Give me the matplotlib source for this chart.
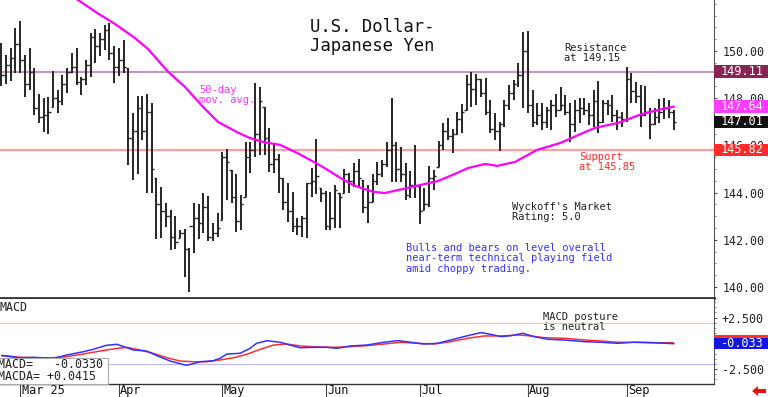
import numpy as np
import matplotlib
matplotlib.use("Agg")
import matplotlib.pyplot as plt
from matplotlib.patches import Rectangle, Polygon

plt.rcParams['font.family'] = ['DejaVu Sans Mono', 'DejaVu Sans']

# daily bars (USD/JPY)
highs = [150.34, 149.83, 150.13, 150.97, 151.27, 149.83, 150.13, 149.28, 148.18, 148.00,
         148.05, 149.15, 148.35, 148.98, 149.28, 149.92, 150.13, 148.90, 149.62, 150.76,
         150.93, 150.76, 151.10, 151.19, 150.21, 150.13, 150.47, 149.28, 147.37, 148.09,
         148.09, 148.18, 147.80, 144.62, 144.24, 143.56, 143.26, 143.01, 142.42, 142.46,
         141.65, 143.56, 143.52, 143.98, 143.86, 142.71, 143.14, 145.72, 145.85, 144.96,
         144.79, 143.90, 146.14, 146.14, 148.64, 148.47, 147.63, 146.74, 146.10, 145.64,
         144.62, 144.41, 144.03, 142.92, 143.01, 144.41, 145.04, 146.27, 144.19, 144.07,
         144.03, 144.32, 143.98, 145.00, 144.83, 145.25, 145.42, 144.53, 144.32, 144.79,
         145.30, 145.38, 146.14, 148.00, 146.14, 145.93, 145.25, 144.92, 146.02, 144.28,
         144.19, 145.13, 144.96, 146.19, 146.95, 147.16, 146.69, 147.42, 147.75, 148.98,
         149.11, 149.03, 148.81, 148.86, 147.92, 147.37, 146.99, 147.92, 148.56, 148.77,
         149.49, 150.81, 150.85, 148.35, 147.80, 147.80, 147.63, 147.92, 148.18, 148.47,
         148.14, 147.80, 147.92, 148.00, 148.00, 147.80, 148.35, 148.73, 147.92, 147.92,
         148.14, 147.50, 147.42, 149.32, 149.07, 148.69, 148.56, 148.52, 147.58, 147.58,
         147.97, 148.00, 147.92, 147.50]
lows = [148.52, 148.60, 148.73, 149.07, 149.07, 148.05, 148.35, 147.29, 146.95, 146.57,
        146.48, 147.63, 147.37, 147.71, 148.22, 149.07, 148.56, 148.14, 148.56, 148.90,
        149.49, 149.79, 150.04, 149.62, 148.64, 148.94, 149.07, 145.17, 144.53, 144.79,
        146.23, 143.98, 143.98, 142.03, 142.08, 142.54, 141.57, 141.61, 142.08, 140.42,
        139.79, 141.44, 142.03, 142.29, 141.95, 141.95, 142.12, 142.84, 143.69, 143.56,
        142.33, 142.42, 143.81, 144.83, 145.51, 145.59, 145.59, 144.87, 144.83, 143.98,
        143.26, 142.75, 142.33, 142.20, 142.12, 142.08, 143.81, 143.94, 143.60, 142.42,
        142.42, 142.50, 142.50, 143.98, 143.98, 144.24, 144.24, 143.14, 142.71, 143.60,
        144.32, 144.66, 145.08, 144.45, 144.45, 144.45, 143.69, 143.77, 143.77, 142.67,
        143.26, 143.39, 144.11, 145.08, 145.81, 146.23, 145.68, 146.44, 146.53, 147.50,
        147.63, 147.71, 148.05, 147.29, 146.53, 146.23, 145.76, 146.78, 147.50, 147.92,
        148.47, 147.58, 147.37, 146.78, 146.86, 146.65, 146.74, 146.65, 147.20, 147.50,
        147.29, 146.14, 146.57, 146.95, 147.29, 146.86, 146.78, 146.53, 146.95, 147.29,
        146.99, 146.65, 146.78, 146.99, 147.80, 147.80, 146.78, 147.25, 146.27, 146.86,
        146.95, 147.12, 147.16, 146.65]
closes = [149.0, 149.4, 149.7, 150.3, 149.6, 148.6, 149.1, 147.6, 147.2, 147.3,
          147.4, 148.0, 147.9, 148.6, 149.1, 149.3, 148.7, 148.8, 149.4, 150.6,
          150.2, 150.5, 150.9, 149.9, 149.3, 149.6, 149.3, 146.3, 146.6, 147.6,
          146.6, 147.4, 145.0, 143.5, 143.2, 143.0, 142.1, 141.9, 142.3, 141.6,
          142.6, 142.9, 142.7, 143.4, 142.1, 142.3, 142.5, 145.5, 145.3, 143.8,
          142.8, 143.5, 145.5, 145.8, 146.5, 147.9, 146.3, 145.2, 145.4, 144.6,
          143.6, 143.2, 142.6, 142.6, 142.9, 144.4, 144.5, 144.7, 144.0, 142.6,
          142.9, 144.1, 143.8, 144.8, 144.5, 144.9, 144.6, 143.4, 143.6, 144.5,
          144.8, 145.2, 145.8, 146.0, 145.0, 144.8, 143.9, 144.3, 144.3, 143.2,
          143.5, 144.6, 144.7, 146.0, 146.6, 146.4, 146.5, 147.1, 147.4, 148.6,
          148.4, 148.8, 148.2, 147.4, 146.7, 146.6, 146.9, 147.7, 148.2, 148.6,
          149.0, 150.0, 147.7, 147.0, 147.3, 147.0, 147.5, 147.7, 147.5, 147.7,
          147.4, 146.9, 147.5, 147.6, 147.5, 147.3, 147.9, 147.0, 147.8, 147.7,
          147.3, 147.2, 147.1, 148.8, 148.3, 148.1, 147.3, 147.4, 146.9, 147.2,
          147.4, 147.6, 147.4, 147.01]

# 50-day moving average, points along the magenta line
ma_idx = [14.6, 16.3, 20.4, 24.2, 28.4, 31.2, 35.5, 39.1, 42.7, 46.1, 50.4, 52.9, 55.7,
          59.3, 62.9, 65.7, 68.4, 72.1, 75.2, 79.1, 81.6, 87.4, 92.9, 96.5, 99.3, 102.9,
          105.5, 109.3, 114.0, 118.9, 123.8, 126.3, 131.2, 136.3, 139.7, 143.0]
ma_val = [152.42, 152.16, 151.61, 151.14, 150.55, 150.08, 149.11, 148.47, 147.67, 146.99,
          146.53, 146.31, 146.14, 146.02, 145.68, 145.38, 145.08, 144.62, 144.28, 144.03,
          143.98, 144.24, 144.49, 144.79, 145.04, 145.21, 145.13, 145.30, 145.81, 146.10,
          146.53, 146.74, 146.95, 147.33, 147.50, 147.64]

# MACD (blue) and its average (red)
macd_idx = [0.1, 4.0, 6.8, 11.1, 13.9, 17.4, 19.6, 22.4, 24.6, 26.1, 28.1, 30.9, 33.1,
            35.9, 39.4, 42.3, 45.1, 46.5, 48.0, 50.8, 52.9, 54.3, 56.5, 59.3, 61.4, 63.6,
            66.4, 69.2, 71.4, 74.2, 77.7, 81.4, 84.3, 87.1, 89.9, 92.8, 95.6, 98.4, 102.0,
            104.1, 106.3, 108.4, 110.9, 113.3, 116.2, 119.7, 124.0, 127.5, 131.1, 134.6,
            138.2, 143.0]
macd_val = [-1.20, -1.40, -1.36, -1.46, -1.14, -0.82, -0.58, -0.19, -0.10, -0.33, -0.65,
            -0.75, -1.20, -1.72, -2.14, -1.79, -1.69, -1.46, -1.04, -0.97, -0.49, 0.0,
            0.25, 0.10, -0.17, -0.43, -0.39, -0.39, -0.49, -0.26, -0.17, 0.10, 0.26, 0.10,
            -0.07, 0.0, 0.32, 0.65, 1.04, 0.87, 0.65, 0.74, 0.97, 0.65, 0.39, 0.32, 0.16,
            0.10, 0.0, 0.10, 0.06, -0.033]
sig_idx = [0.1, 4.0, 6.8, 11.1, 13.9, 17.4, 21.0, 24.6, 26.7, 29.5, 32.3, 35.2, 38.0,
           40.9, 43.7, 46.5, 49.4, 52.2, 55.1, 57.9, 60.7, 63.6, 66.4, 70.6, 74.2, 77.7,
           81.4, 84.9, 88.5, 92.0, 95.6, 99.2, 102.7, 106.3, 109.8, 112.0, 115.5, 119.7,
           124.0, 127.5, 131.1, 135.3, 138.9, 143.0]
sig_val = [-1.17, -1.36, -1.40, -1.40, -1.30, -1.04, -0.75, -0.49, -0.39, -0.65, -0.97,
           -1.40, -1.72, -1.79, -1.79, -1.62, -1.40, -1.07, -0.58, -0.17, -0.07, -0.26,
           -0.33, -0.39, -0.33, -0.23, -0.07, 0.10, 0.0, -0.07, 0.16, 0.49, 0.71, 0.71,
           0.81, 0.74, 0.55, 0.49, 0.32, 0.23, 0.10, 0.10, 0.06, 0.0415]

month_pos = [4, 25, 47, 69, 89, 112, 133]
month_lab = ['Mar 25', 'Apr', 'May', 'Jun', 'Jul', 'Aug', 'Sep']

resistance = 149.11
support = 145.82
last_close = 147.01
last_ma = 147.64
macd_last = -0.033
macda_last = 0.0415

W, H = 768, 397
fig = plt.figure(figsize=(W / 100, H / 100), dpi=100)

def fx(px):
    return px / W

def fy(py):
    return 1 - py / H

main_ylim = (139.53, 152.16)
macd_ylim = (-3.95, 4.30)
xlim = (-0.28, 151.6)
ax1_box = [0, fy(298), fx(714), fy(0) - fy(298)]
ax2_box = [0, fy(384), fx(714), fy(299) - fy(384)]

ax1 = fig.add_axes(ax1_box)
ax2 = fig.add_axes(ax2_box)

x = np.arange(len(highs))
opens = [closes[0]] + [min(max(c, lo), hi) for c, lo, hi in zip(closes[:-1], lows[1:], highs[1:])]

bar_col = '#262626'
ax1.vlines(x, lows, highs, color=bar_col, lw=1.4)
ax1.hlines(opens, x - 0.5, x, color=bar_col, lw=1.0)
ax1.hlines(closes, x, x + 0.5, color=bar_col, lw=1.0)
ax1.plot(ma_idx, ma_val, color='#ff00ff', lw=1.6)
ax1.axhline(resistance, color='#c79ab4', lw=1.6, zorder=0)
ax1.axhline(support, color='#ff9f9f', lw=1.6, zorder=0)

ax1.set_xlim(*xlim)
ax1.set_ylim(*main_ylim)
ax1.set_xticks([])
ax1.yaxis.tick_right()
ax1.set_yticks([140, 142, 144, 146, 148, 150])
ax1.set_yticklabels(['%.2f' % v for v in [140, 142, 144, 146, 148, 150]])
ax1.set_yticks(np.arange(140, 152.1, 0.5), minor=True)
ax1.tick_params(axis='y', which='major', direction='out', length=2.5, width=0.8,
                pad=4, labelsize=8.4, labelcolor='#222222', color='#555555')
ax1.tick_params(axis='y', which='minor', direction='out', length=1.5, width=0.6, color='#777777')
for s in ['top', 'left']:
    ax1.spines[s].set_visible(False)
ax1.spines['right'].set_color('#555555')
ax1.spines['right'].set_linewidth(0.8)
ax1.spines['bottom'].set_color('#333333')
ax1.spines['bottom'].set_linewidth(2.0)

ax2.plot(sig_idx, sig_val, color='#ff3030', lw=1.1)
ax2.plot(macd_idx, macd_val, color='#3333ff', lw=1.1)
ax2.axhline(2.0, color='#ffb8b8', lw=0.8, zorder=0)
ax2.axhline(-2.0, color='#b8b8ff', lw=0.8, zorder=0)
ax2.set_xlim(*xlim)
ax2.set_ylim(*macd_ylim)
ax2.yaxis.tick_right()
ax2.set_yticks([-2.5, 0, 2.5])
ax2.set_yticklabels(['-2.500', '', '+2.500'])
ax2.set_yticks(np.arange(-3.5, 4.1, 0.5), minor=True)
ax2.tick_params(axis='y', which='major', direction='out', length=2.5, width=0.8,
                pad=3, labelsize=8.4, labelcolor='#222222', color='#555555')
ax2.tick_params(axis='y', which='minor', direction='out', length=1.5, width=0.6, color='#777777')
ax2.set_xticks(month_pos)
ax2.set_xticklabels([''] * len(month_pos))
ax2.tick_params(axis='x', direction='out', length=9.4, width=0.8, color='#444444')
for s in ['top', 'left']:
    ax2.spines[s].set_visible(False)
ax2.spines['right'].set_color('#555555')
ax2.spines['right'].set_linewidth(0.8)
ax2.spines['bottom'].set_color('#333333')
ax2.spines['bottom'].set_linewidth(1.0)
for p, lab in zip(month_pos, month_lab):
    ax2.text(p + 0.3, -0.075, lab, transform=ax2.get_xaxis_transform(),
             ha='left', va='center', fontsize=8.6, color='#111111')

# value boxes on the right edge
def price_fy(v):
    return ax1_box[1] + (v - main_ylim[0]) / (main_ylim[1] - main_ylim[0]) * ax1_box[3]

def macd_fy(v):
    return ax2_box[1] + (v - macd_ylim[0]) / (macd_ylim[1] - macd_ylim[0]) * ax2_box[3]

def value_box(yc, hpx, text, fc):
    h = hpx / H
    fig.add_artist(Rectangle((fx(714), yc - h / 2), fx(54), h, transform=fig.transFigure,
                             fc=fc, ec='none', zorder=4))
    if text:
        fig.text(fx(721), yc, text, color='white', fontsize=8.6, ha='left',
                 va='center', zorder=5)

value_box(price_fy(resistance), 13, '%.2f' % resistance, '#8a2352')
value_box(price_fy(last_ma), 13, '%.2f' % last_ma, '#ff3cff')
value_box(price_fy(last_close), 12, '%.2f' % last_close, '#111111')
value_box(price_fy(support), 12, '%.2f' % support, '#ff2a2a')
value_box(macd_fy(macda_last) + 0.004, 12, '', '#ff3030')
value_box(macd_fy(macd_last), 11, '%.3f' % macd_last, '#1515e0')

# texts
fig.text(fx(310), fy(18), 'U.S. Dollar-\nJapanese Yen', fontsize=12.4, ha='left',
         va='top', color='#111111', linespacing=1.05)
small = dict(fontsize=7.5, ha='left', va='top', linespacing=1.05)
fig.text(fx(199), fy(85), '50-day\nmov. avg.', color='#ff33ff', **small)
fig.text(fx(564), fy(43), 'Resistance\nat 149.15', color='#222222', **small)
fig.text(fx(579), fy(152), 'Support\nat 145.85', color='#ff2a2a', **small)
fig.text(fx(512), fy(202), "Wyckoff's Market\nRating: 5.0", color='#222222', **small)
fig.text(fx(406), fy(243), 'Bulls and bears on level overall\n'
         'near-term technical playing field\namid choppy trading.',
         color='#3333ff', **small)
fig.text(fx(543), fy(312), 'MACD posture\nis neutral', color='#222222', **small)
fig.text(fx(0), fy(301), 'MACD', color='#222222', fontsize=8.4, ha='left', va='top')

fig.add_artist(Rectangle((fx(-1), fy(384)), fx(109), fy(358) - fy(384), transform=fig.transFigure,
                         fc='white', ec='#aaaaaa', lw=0.8, zorder=4))
fig.text(fx(-2), fy(365), 'MACD=   -0.0330', color='#222222', fontsize=8.4, ha='left',
         va='center', zorder=5)
fig.text(fx(-2), fy(377), 'MACDA= +0.0415', color='#222222', fontsize=8.4, ha='left',
         va='center', zorder=5)

# small red arrow at the bottom right
arrow = [(752, 391), (758, 386), (758, 389), (766, 389), (766, 393), (758, 393), (758, 396)]
fig.add_artist(Polygon([(fx(a), fy(b)) for a, b in arrow], closed=True,
                       transform=fig.transFigure, fc='#ee1111', ec='none'))

fig.savefig('out.png', dpi=100)
